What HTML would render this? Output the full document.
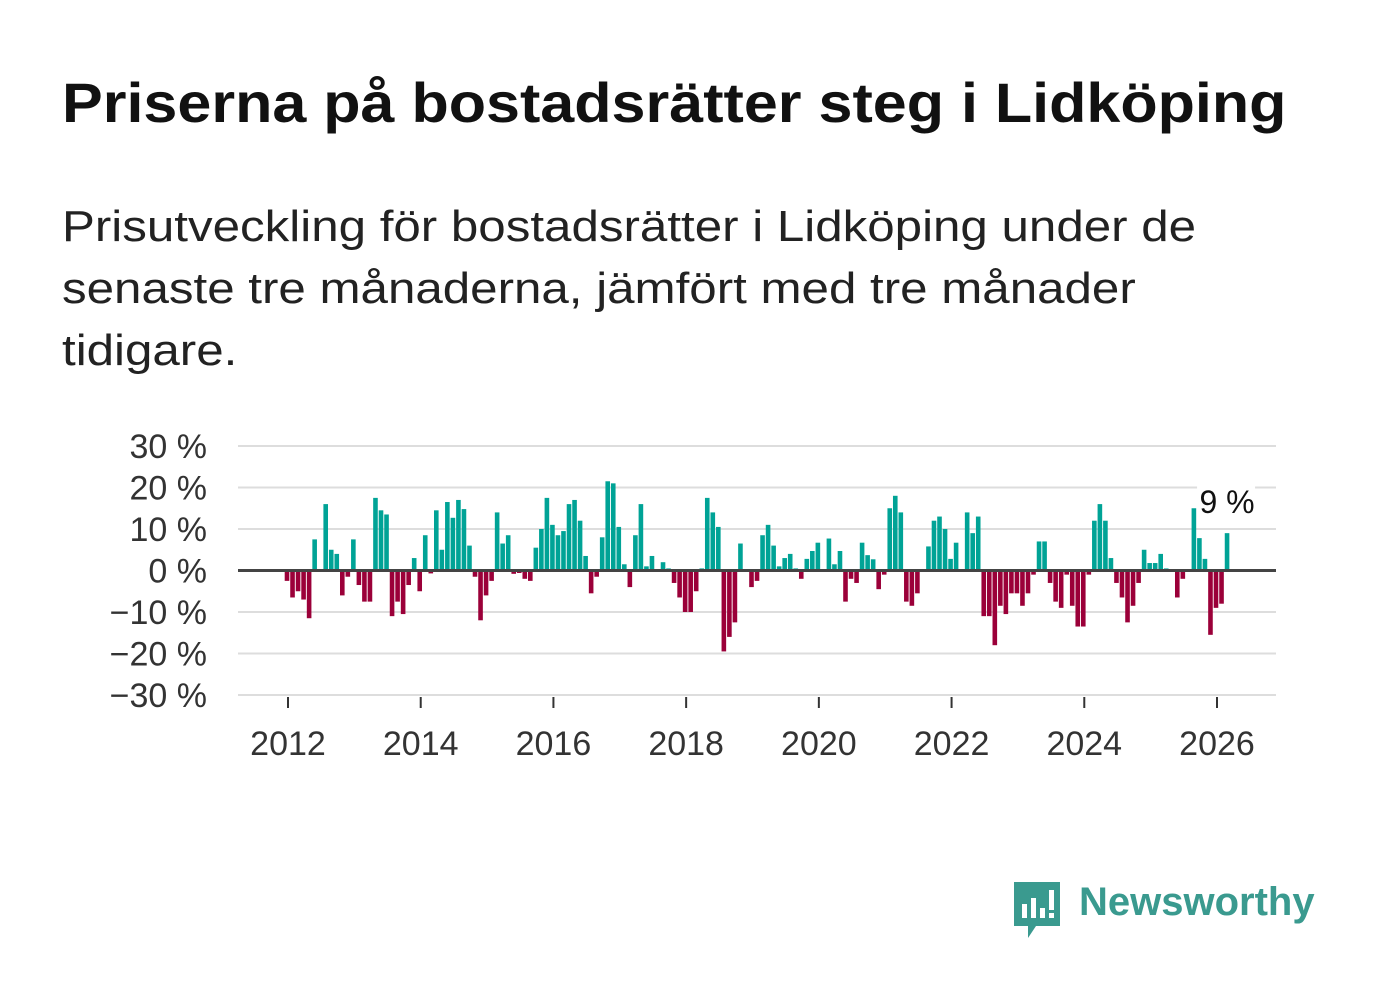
<!DOCTYPE html>
<html><head><meta charset="utf-8"><style>
body{margin:0;background:#fff;width:1382px;height:999px;overflow:hidden;font-family:"Liberation Sans",sans-serif;color:#111}
#title{position:absolute;left:62px;top:70px;font-size:56px;font-weight:bold;margin:0;white-space:nowrap;transform:scaleX(1.09);transform-origin:left top}
#sub{position:absolute;left:62px;top:196px;font-size:44px;line-height:62px;white-space:nowrap;color:#222;transform:scaleX(1.12);transform-origin:left top}
svg{position:absolute;left:0;top:0}
</style></head><body>
<h1 id="title">Priserna på bostadsrätter steg i Lidköping</h1>
<div id="sub">Prisutveckling för bostadsrätter i Lidköping under de<br>senaste tre månaderna, jämfört med tre månader<br>tidigare.</div>
<svg id="chart" width="1382" height="999"></svg>
<div style="position:absolute;left:1012px;top:880px;">
<svg width="50" height="60" style="position:static"><path d="M2 2h46v44H24l-8 12v-12H2z" fill="#3a9a8f"/><rect x="10" y="24" width="5" height="14" fill="#fff"/><rect x="19" y="18" width="5" height="20" fill="#fff"/><rect x="28" y="28" width="5" height="10" fill="#fff"/><rect x="37" y="10" width="5" height="20" fill="#fff"/><rect x="37" y="33" width="5" height="5" fill="#fff"/></svg>
</div>
<div style="position:absolute;left:1079px;top:880px;font-size:40px;font-weight:bold;color:#3a9a8f">Newsworthy</div>
<script>
const startYear = 2012;
const values = [-2.5,-6.5,-5,-7,-11.5,7.5,0,16,5,4,-6,-1.5,
7.5,-3.5,-7.5,-7.5,17.5,14.5,13.5,-11,-7.5,-10.5,-3.5,3,
-5,8.5,-0.7,14.5,5,16.5,12.7,17,14.8,6,-1.5,-12,
-6,-2.5,14,6.5,8.5,-0.8,-0.6,-2,-2.5,5.5,10,17.5,
11,8.5,9.5,16,17,12,3.5,-5.5,-1.5,8,21.5,21,
10.5,1.5,-4,8.5,16,1,3.5,0,2,0.5,-3,-6.5,
-10,-10,-5,0.5,17.5,14,10.5,-19.5,-16,-12.5,6.5,0,
-4,-2.5,8.5,11,6,1,3,4,0.5,-2,2.8,4.7,
6.7,0,7.7,1.5,4.7,-7.5,-2,-3,6.7,3.7,2.7,-4.5,
-1,15,18,14,-7.5,-8.5,-5.5,0,5.8,12,13,10,
2.8,6.7,0,14,9,13,-11,-11,-18,-8.5,-10.5,-5.5,
-5.5,-8.5,-5.5,-1,7,7,-3,-7.5,-9,-1,-8.5,-13.5,
-13.5,-1,12,16,12,3,-3,-6.5,-12.5,-8.5,-3,5,
1.8,1.8,4,0.5,0,-6.5,-2,0,15,7.8,2.8,-15.5,
-9,-8,9];
const yTicks = [30,20,10,0,-10,-20,-30];
const xTicks = [2012,2014,2016,2018,2020,2022,2024,2026];
const lastLabel = "9 %";

const svg = document.getElementById('chart');
const NS = 'http://www.w3.org/2000/svg';
const X0 = 238, X1 = 1276;
const x = t => 288 + (t - 2012) * (1217 - 288) / 14;
const y = v => 570.5 - v * 41.5 / 10;
function mk(tag, attrs){const e=document.createElementNS(NS,tag);for(const k in attrs)e.setAttribute(k,attrs[k]);svg.appendChild(e);return e;}
yTicks.forEach(v=>{
  if(v!==0){const g=mk('line',{x1:X0,x2:X1,y1:y(v),y2:y(v),stroke:'#ddd','stroke-width':2});
  
  }
  const t=mk('text',{x:207,y:y(v)+12,'text-anchor':'end','font-size':34,fill:'#333','font-family':'Liberation Sans, sans-serif'});
  t.textContent=(v<0?'\u2212'+(-v):v)+' %';
  
  
});
xTicks.forEach(yr=>{
  const l=mk('line',{x1:x(yr),x2:x(yr),y1:697,y2:708,stroke:'#333','stroke-width':2});
  
  
  const t=mk('text',{x:x(yr),y:755,'text-anchor':'middle','font-size':34,fill:'#333','font-family':'Liberation Sans, sans-serif'});
  t.textContent=yr;
  
  
});
values.forEach((v,i)=>{
  const cx=x(startYear+i/12)-1;
  const r=mk('rect',{x:cx-2.3,width:4.6,y:Math.min(y(v),y(0)),height:Math.abs(y(v)-y(0)),fill:v>=0?'#00a396':'#9b0039'});
  
  
});
const z=mk('line',{x1:X0,x2:X1,y1:y(0),y2:y(0),stroke:'#444','stroke-width':3});


const li=values.length-1, lx=x(startYear+li/12)-1;
const bg=mk('rect',{x:lx-30,y:484,width:58,height:36,fill:'#fff'});


const lt=mk('text',{x:lx,y:513,'text-anchor':'middle','font-size':32,fill:'#111','font-family':'Liberation Sans, sans-serif'});
lt.textContent=lastLabel;


</script>
</body></html>
